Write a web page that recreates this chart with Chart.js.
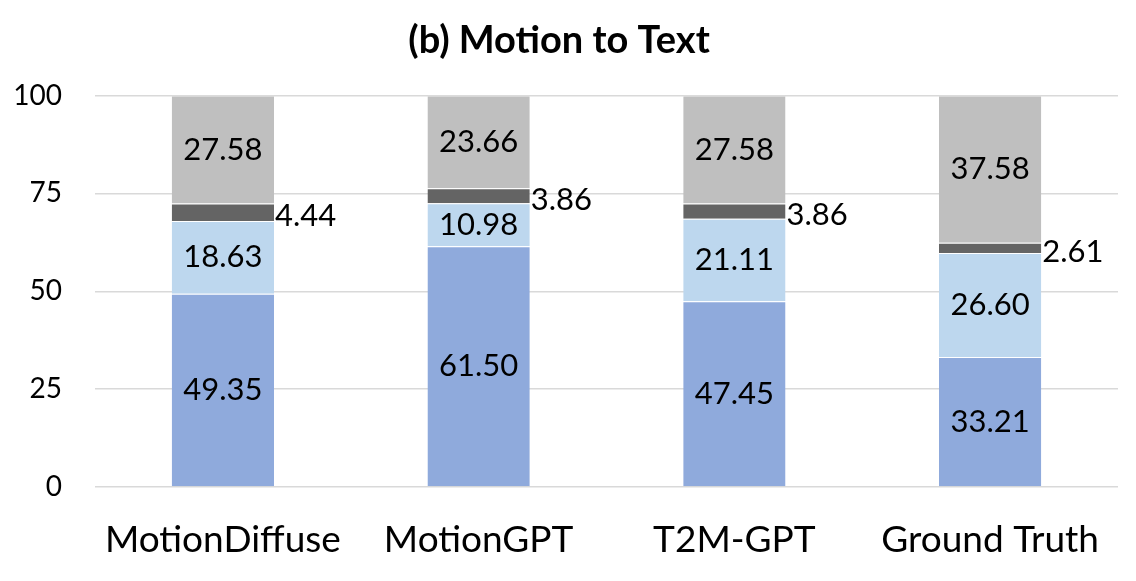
<!DOCTYPE html>
<html>
<head>
<meta charset="utf-8">
<script src="https://cdn.jsdelivr.net/npm/chart.js@4"></script>
<style>
  html, body { margin: 0; padding: 0; background: #fff; }
  #wrap { width: 1136px; height: 581px; }
</style>
</head>
<body>
<div id="wrap"><canvas id="chart"></canvas></div>
<script>
const categories = ["MotionDiffuse", "MotionGPT", "T2M-GPT", "Ground Truth"];
const seriesA = [49.35, 61.50, 47.45, 33.21];
const seriesB = [18.63, 10.98, 21.11, 26.60];
const seriesC = [4.44, 3.86, 3.86, 2.61];
const seriesD = [27.58, 23.66, 27.58, 37.58];
const yTicks = [0, 25, 50, 75, 100];

// draw the value labels: inside the bar, or to its right for the thin segment
const valueLabels = {
  id: "valueLabels",
  afterDatasetsDraw(chart) {
    const ctx = chart.ctx;
    ctx.save();
    ctx.font = "31px Lato";
    ctx.fillStyle = "#000";
    ctx.textBaseline = "middle";
    chart.data.datasets.forEach((ds, i) => {
      chart.getDatasetMeta(i).data.forEach((bar, j) => {
        const v = ds.data[j].toFixed(2);
        const midY = (bar.y + bar.base) / 2;
        if (ds.outside) {
          ctx.textAlign = "left";
          ctx.fillText(v, bar.x + bar.width / 2 + 1, midY + 4);
        } else {
          ctx.textAlign = "center";
          ctx.fillText(v, bar.x, midY);
        }
      });
    });
    ctx.restore();
  }
};

new Chart(document.getElementById("chart"), {
  type: "bar",
  data: {
    labels: categories,
    datasets: [
      { label: "A", data: seriesA, backgroundColor: "#8faadc" },
      { label: "B", data: seriesB, backgroundColor: "#bdd7ee" },
      { label: "C", data: seriesC, backgroundColor: "#646464", outside: true },
      { label: "D", data: seriesD, backgroundColor: "#bfbfbf" },
    ].map((d) => ({
      ...d,
      borderColor: "rgba(255,255,255,0.45)",
      borderWidth: { top: 1 },
      borderSkipped: false,
      categoryPercentage: 1,
      barPercentage: 0.4,
    })),
  },
  options: {
    responsive: true,
    maintainAspectRatio: false,
    animation: false,
    layout: { padding: { left: 0, right: 18, top: 0, bottom: 0 } },
    plugins: {
      legend: { display: false },
      tooltip: { enabled: false },
      title: {
        display: true,
        text: "(b) Motion to Text",
        color: "#000",
        font: { family: "Lato", size: 38, weight: "bold" },
        padding: { top: 18, bottom: 32 },
      },
    },
    scales: {
      x: {
        stacked: true,
        afterFit: (s) => { s.height = 94; },
        grid: { display: false, drawTicks: false },
        border: { display: false },
        ticks: { color: "#000", font: { family: "Lato", size: 37 }, padding: 31 },
      },
      y: {
        stacked: true,
        min: 0,
        max: 100,
        afterBuildTicks: (s) => { s.ticks = yTicks.map((v) => ({ value: v })); },
        afterFit: (s) => { s.width = 95; },
        grid: { color: "#d9d9d9", lineWidth: 1.5, drawTicks: false },
        border: { display: false },
        ticks: { color: "#000", font: { family: "Lato", size: 28 }, padding: 33 },
      },
    },
  },
  plugins: [valueLabels],
});
</script>
</body>
</html>
